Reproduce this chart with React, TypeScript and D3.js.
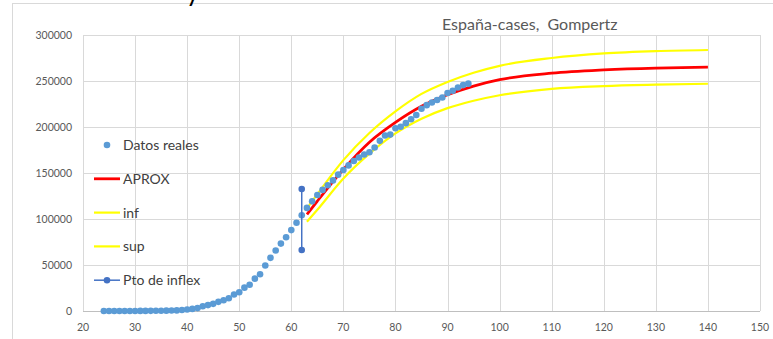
import React from 'react';
import * as d3 from 'd3';

// real cases, day 24 .. 94
const firstDay = 24;
const casos = [
  2, 2, 6, 13, 15, 32, 45, 84, 120, 165, 222, 259, 400, 500, 673, 1073, 1695, 2277, 3146, 5232,
  6391, 7798, 9942, 11748, 13910, 17963, 20410, 25374, 28603, 35136, 39885, 49515, 57786, 65719,
  73235, 80110, 87956, 95923, 104118, 112065, 119199, 126168, 131646, 136675, 141942, 148220,
  153222, 158273, 163027, 166831, 170099, 172541, 177644, 184948, 190839, 191726, 198674, 200210,
  204178, 208389, 213024, 219764, 223759, 226629, 229422, 232128, 236899, 239369, 242988, 245567,
  247122
];

// fitted curves read at these days
const diasAjuste = [63, 65, 70, 75, 80, 85, 90, 95, 100, 110, 120, 130, 140];
const aprox = [105000, 119500, 154000, 183500, 205000, 222500, 235000, 244500, 251500, 258500, 262000, 264000, 265000];
const inf = [97000, 110000, 144000, 171000, 193000, 209000, 220500, 228500, 234500, 241500, 244500, 246000, 247000];
const sup = [111600, 127000, 164000, 193500, 217000, 236000, 249000, 259000, 266500, 275000, 280000, 282500, 283700];

const inflexDia = 62;
const inflexVals = [66300, 132600];

const xTicks = [20, 30, 40, 50, 60, 70, 80, 90, 100, 110, 120, 130, 140, 150];
const yTicks = [0, 50000, 100000, 150000, 200000, 250000, 300000];

const legendItems = ['Datos reales', 'APROX', 'inf', 'sup', 'Pto de inflex'];

export default function App() {
  const width = 773;
  const height = 339;
  const x = d3.scaleLinear().domain([20, 150]).range([83, 760]);
  const y = d3.scaleLinear().domain([0, 300000]).range([311, 35]);

  const line = d3.line<[number, number]>()
    .x(d => x(d[0]))
    .y(d => y(d[1]))
    .curve(d3.curveMonotoneX);

  const pts = (vals: number[]) => diasAjuste.map((d, i) => [d, vals[i]] as [number, number]);

  const font = 'Lato, "Open Sans", sans-serif';
  const grey = '#595959';

  return (
    <svg width={width} height={height} style={{ position: 'absolute', left: 0, top: 0 }}>
      <rect x={0} y={0} width={width} height={height} fill="#fff" />
      <rect x={12.5} y={3.5} width={800} height={400} fill="none" stroke="#d9d9d9" />
      {/* tail of a cropped heading above the chart */}
      <text x={186} y={1} fontSize={26} fontFamily={font} fill="#000">y</text>

      {yTicks.map(t => (
        <line key={'gy' + t} x1={83} x2={760} y1={Math.round(y(t)) + 0.5} y2={Math.round(y(t)) + 0.5}
          stroke={t === 0 ? '#bfbfbf' : '#d9d9d9'} />
      ))}
      {xTicks.map(t => (
        <line key={'gx' + t} x1={Math.round(x(t)) + 0.5} x2={Math.round(x(t)) + 0.5} y1={35} y2={311}
          stroke="#d9d9d9" />
      ))}

      {yTicks.map(t => (
        <text key={'ty' + t} x={72} y={y(t) + 3.5} textAnchor="end" fontSize={10.5} fontFamily={font} fill={grey}>{t}</text>
      ))}
      {xTicks.map(t => (
        <text key={'tx' + t} x={x(t)} y={331} textAnchor="middle" fontSize={10.5} fontFamily={font} fill={grey}>{t}</text>
      ))}

      <text x={442} y={30} fontSize={16} fontFamily={font} fill={grey} xmlSpace="preserve">España-cases,  Gompertz</text>

      <path d={line(pts(inf)) || ''} fill="none" stroke="#ffff00" strokeWidth={2.2} />
      <path d={line(pts(sup)) || ''} fill="none" stroke="#ffff00" strokeWidth={2.2} />
      <path d={line(pts(aprox)) || ''} fill="none" stroke="#ff0000" strokeWidth={2.8} />

      {casos.map((v, i) => (
        <circle key={'c' + i} cx={x(firstDay + i)} cy={y(v)} r={3.3} fill="#5b9bd5" />
      ))}

      <line x1={x(inflexDia)} x2={x(inflexDia)} y1={y(inflexVals[0])} y2={y(inflexVals[1])} stroke="#4472c4" strokeWidth={1.5} />
      {inflexVals.map(v => (
        <circle key={'in' + v} cx={x(inflexDia)} cy={y(v)} r={3.3} fill="#4472c4" />
      ))}

      {legendItems.map((name, i) => {
        const cy = 145 + i * 33.8;
        return (
          <g key={name}>
            {i === 0 && <circle cx={107} cy={cy} r={3.3} fill="#5b9bd5" />}
            {i === 1 && <line x1={94} x2={120} y1={cy} y2={cy} stroke="#ff0000" strokeWidth={2.8} />}
            {(i === 2 || i === 3) && <line x1={94} x2={120} y1={cy} y2={cy} stroke="#ffff00" strokeWidth={2.2} />}
            {i === 4 && (
              <g>
                <line x1={94} x2={120} y1={cy} y2={cy} stroke="#4472c4" strokeWidth={1.5} />
                <circle cx={107} cy={cy} r={3.3} fill="#4472c4" />
              </g>
            )}
            <text x={123} y={cy + 5} fontSize={14} fontFamily={font} fill="#404040">{name}</text>
          </g>
        );
      })}
    </svg>
  );
}
